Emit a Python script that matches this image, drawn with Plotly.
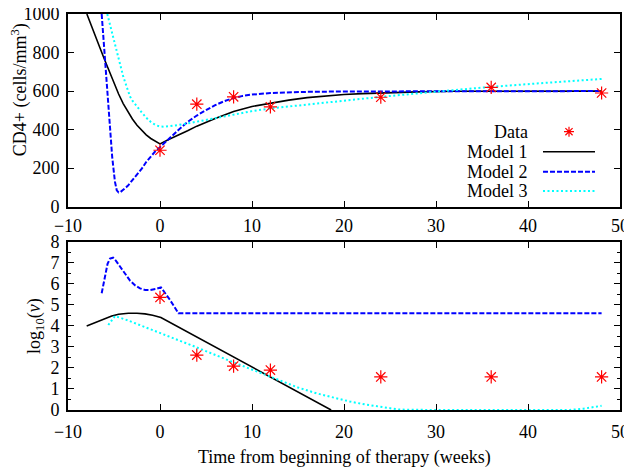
import plotly.graph_objects as go

# ---------------- data ----------------
weeks_data = [0, 4, 8, 12, 24, 36, 48]
cd4_data = [293, 532, 570, 518, 568, 619, 590]
logv_data = [5.35, 2.61, 2.09, 1.90, 1.57, 1.57, 1.57]

m1_cd4_t = [-7.95, -7.5, -7, -6.5, -6, -5.5, -5, -4.5, -4, -3.5, -3, -2.5, -2, -1.5, -1, -0.5, 0,
            1, 2, 3, 4, 5, 6, 7, 8, 10, 12, 14, 16, 18, 20, 22, 25, 28, 32, 40, 48]
m1_cd4 = [1000, 942, 882, 821, 760, 700, 641, 585, 535, 492, 455, 423, 396, 373, 354, 339, 326,
          350, 371, 394, 418, 440, 458, 476, 494, 520, 538, 553, 566, 575, 582, 587, 592, 596, 599, 600, 600]

m2_cd4_t = [-6.34, -5.98, -5.6, -5.2, -4.9, -4.7, -4.5, -4.3, -4.0, -3.5, -3, -2.5, -2, -1.5, -1, -0.5, 0,
            0.5, 1, 1.5, 2, 3, 4, 5, 6, 7, 8, 9, 10, 12, 14, 16, 20, 48]
m2_cd4 = [1000, 763, 503, 260, 130, 85, 74, 76, 88, 108, 138, 167, 196, 232, 262, 288, 309,
          332, 352, 375, 398, 440, 473, 501, 527, 548, 564, 575, 582, 590, 594, 596, 598, 600]

m3_cd4_t = [-5.73, -5.3, -4.89, -4.5, -4, -3.5, -3.26, -3, -2.5, -2, -1.5, -1, -0.5, 0, 0.5, 1, 2, 3,
            4, 5, 6, 8, 10, 12, 15, 18, 21, 24, 30, 36, 42, 48]
m3_cd4 = [1000, 920, 850, 775, 676, 605, 572, 550, 518, 490, 462, 440, 424, 416, 415, 417, 424, 432,
          441, 450, 460, 479, 496, 510, 525, 541, 556, 570, 597, 622, 643, 663]

m1_v_t = [-7.97, -7.07, -6.5, -6, -5.25, -4.5, -3.44, -2.5, -1.63, -0.8, 0.1, 18.6]
m1_v = [3.99, 4.15, 4.27, 4.36, 4.47, 4.55, 4.60, 4.60, 4.57, 4.50, 4.40, 0.0]

m2_v_t = [-6.34, -5.98, -5.7, -5.43, -5.1, -4.8, -4.35, -3.8, -3.26, -2.7, -2.17, -1.6, -1.09, -0.5, 0.0,
          0.1, 1.09, 2.0, 48]
m2_v = [5.55, 6.34, 6.95, 7.20, 7.24, 7.10, 6.81, 6.45, 6.15, 5.92, 5.78, 5.70, 5.70, 5.75, 5.82,
        5.83, 5.23, 4.60, 4.60]

m3_v_t = [-5.62, -4.89, -3.44, 0.18, 3.8, 7.79, 11.96, 15, 17.03, 19, 20.65, 22.5, 24.3, 26, 30, 36, 42, 44.5,
          46, 48]
m3_v = [4.04, 4.47, 4.25, 3.64, 3.01, 2.30, 1.58, 1.07, 0.79, 0.56, 0.40, 0.25, 0.13, 0.02, 0.0, 0.0, 0.0, 0.0,
        0.06, 0.20]

x_ticks = [-10, 0, 10, 20, 30, 40, 50]
cd4_ticks = [0, 200, 400, 600, 800, 1000]
logv_ticks = [0, 1, 2, 3, 4, 5, 6, 7, 8]

legend_labels = ["Data", "Model 1", "Model 2", "Model 3"]

# ---------------- styling ----------------
FONT = "Liberation Serif"
FS = 18
BLACK = "#000000"
BLUE = "#0000ff"
CYAN = "#00ffff"
RED = "#ff0000"
DASH_BLUE = "5px,2px"
DASH_CYAN = "2px,2.5px"

fig = go.Figure()

marker = dict(symbol="asterisk-open", size=11, color=RED, line=dict(color=RED, width=1.2))

# top panel
fig.add_trace(go.Scatter(x=m1_cd4_t, y=m1_cd4, mode="lines", line=dict(color=BLACK, width=1.6),
                         xaxis="x", yaxis="y", showlegend=False))
fig.add_trace(go.Scatter(x=m2_cd4_t, y=m2_cd4, mode="lines", line=dict(color=BLUE, width=2, dash=DASH_BLUE),
                         xaxis="x", yaxis="y", showlegend=False))
fig.add_trace(go.Scatter(x=m3_cd4_t, y=m3_cd4, mode="lines", line=dict(color=CYAN, width=2, dash=DASH_CYAN),
                         xaxis="x", yaxis="y", showlegend=False))
fig.add_trace(go.Scatter(x=weeks_data, y=cd4_data, mode="markers", marker=marker,
                         xaxis="x", yaxis="y", showlegend=False))

# bottom panel
fig.add_trace(go.Scatter(x=m1_v_t, y=m1_v, mode="lines", line=dict(color=BLACK, width=1.6),
                         xaxis="x2", yaxis="y2", showlegend=False))
fig.add_trace(go.Scatter(x=m2_v_t, y=m2_v, mode="lines", line=dict(color=BLUE, width=2, dash=DASH_BLUE),
                         xaxis="x2", yaxis="y2", showlegend=False))
fig.add_trace(go.Scatter(x=m3_v_t, y=m3_v, mode="lines", line=dict(color=CYAN, width=2, dash=DASH_CYAN),
                         xaxis="x2", yaxis="y2", showlegend=False))
fig.add_trace(go.Scatter(x=weeks_data, y=logv_data, mode="markers", marker=marker,
                         xaxis="x2", yaxis="y2", showlegend=False))

axis_common = dict(showline=True, linecolor=BLACK, linewidth=2, mirror="allticks",
                   ticks="inside", ticklen=6, tickwidth=1.3, tickcolor=BLACK,
                   showgrid=False, zeroline=False, automargin=False,
                   ticklabeloverflow="allow",
                   tickfont=dict(family=FONT, size=FS, color=BLACK))

# the page body adds an 8px offset, so margins are shifted to compensate
fig.update_layout(
    width=632, height=473,
    margin=dict(l=60, r=20, t=6, b=71),
    paper_bgcolor="white", plot_bgcolor="white",
    font=dict(family=FONT, size=FS, color=BLACK),
    showlegend=False,
    xaxis=dict(domain=[0, 1], anchor="y", range=[-10, 50], tickvals=x_ticks,
               ticklabelstandoff=2, **axis_common),
    yaxis=dict(domain=[0.5134, 1], anchor="x", range=[0, 1000], tickvals=cd4_ticks,
               ticklabelstandoff=3, **axis_common),
    xaxis2=dict(domain=[0, 1], anchor="y2", range=[-10, 50], tickvals=x_ticks,
                ticklabelstandoff=4, **axis_common),
    yaxis2=dict(domain=[0, 0.425], anchor="x2", range=[0, 8], tickvals=logv_ticks,
                ticklabelstandoff=3,
                minor=dict(dtick=0.5, ticks="inside", ticklen=3, tickwidth=1.2, tickcolor=BLACK),
                **axis_common),
)

# axis titles
fig.add_annotation(text="CD4+ (cells/mm<sup>3</sup>)", xref="paper", yref="paper",
                   x=-0.087, y=0.81, textangle=-90, showarrow=False,
                   xanchor="center", yanchor="middle", font=dict(family=FONT, size=FS))
fig.add_annotation(text="log<sub>10</sub>(<i>v</i>)", xref="paper", yref="paper",
                   x=-0.06, y=0.212, textangle=-90, showarrow=False,
                   xanchor="center", yanchor="middle", font=dict(family=FONT, size=FS))
fig.add_annotation(text="Time from beginning of therapy (weeks)", xref="paper", yref="paper",
                   x=0.5, y=-0.121, showarrow=False, xanchor="center", yanchor="middle",
                   font=dict(family=FONT, size=FS))

# custom legend (text left, sample right, like gnuplot)
leg_y = [0.7028, 0.6523, 0.6018, 0.553]
text_x = 0.837
s0, s1 = 0.8605, 0.9547
for lab, yy in zip(legend_labels, leg_y):
    fig.add_annotation(text=lab, xref="paper", yref="paper", x=text_x, y=yy, showarrow=False,
                       xanchor="right", yanchor="middle", font=dict(family=FONT, size=FS))

styles = [(BLACK, 1.6, "solid"), (BLUE, 2, DASH_BLUE), (CYAN, 2, DASH_CYAN)]
for (col, w, d), yy in zip(styles, leg_y[1:]):
    fig.add_shape(type="line", xref="paper", yref="paper", x0=s0, x1=s1, y0=yy, y1=yy,
                  line=dict(color=col, width=w, dash=d))

cx, cy = (s0 + s1) / 2, leg_y[0]
rx, ry = 5.0 / 552, 5.0 / 396
dx, dy = 3.6 / 552, 3.6 / 396
star_path = (f"M {cx-rx},{cy} L {cx+rx},{cy} M {cx},{cy-ry} L {cx},{cy+ry} "
             f"M {cx-dx},{cy-dy} L {cx+dx},{cy+dy} M {cx-dx},{cy+dy} L {cx+dx},{cy-dy}")
fig.add_shape(type="path", xref="paper", yref="paper", path=star_path,
              line=dict(color=RED, width=1.2))

fig.write_html("out.html")
